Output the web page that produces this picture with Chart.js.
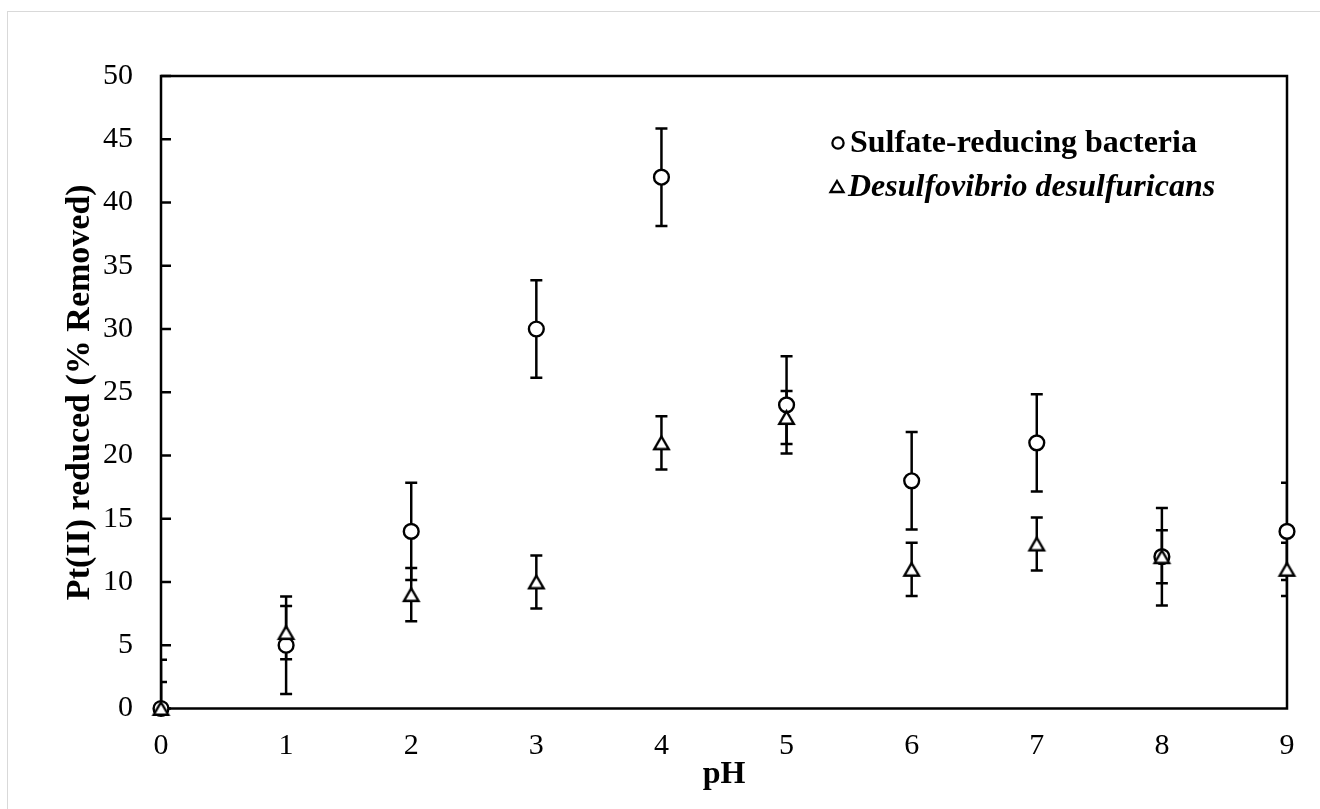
<!DOCTYPE html>
<html>
<head>
<meta charset="utf-8">
<script src="https://cdn.jsdelivr.net/npm/chart.js@4.4.1/dist/chart.umd.min.js"></script>
<style>
  html, body { margin: 0; padding: 0; background: #ffffff; }
  #wrap { position: relative; width: 1320px; height: 809px; }
</style>
</head>
<body>
<div id="wrap"><canvas id="chart" width="1320" height="809"></canvas></div>
<script>
// pH values on the x axis
const phValues = [0, 1, 2, 3, 4, 5, 6, 7, 8, 9];

// Sulfate-reducing bacteria: Pt(II) removed (%) and error
const srbRemoved = [0, 5, 14, 30, 42, 24, 18, 21, 12, 14];
const srbError = [3.85, 3.85, 3.85, 3.85, 3.85, 3.85, 3.85, 3.85, 3.85, 3.85];

// Desulfovibrio desulfuricans: Pt(II) removed (%) and error
const ddRemoved = [0, 6, 9, 10, 21, 23, 11, 13, 12, 11];
const ddError = [2.1, 2.1, 2.1, 2.1, 2.1, 2.1, 2.1, 2.1, 2.1, 2.1];

// Axis tick labels
const xTickValues = [0, 1, 2, 3, 4, 5, 6, 7, 8, 9];
const yTickValues = [0, 5, 10, 15, 20, 25, 30, 35, 40, 45, 50];

const seriesNames = ['Sulfate-reducing bacteria', 'Desulfovibrio desulfuricans'];
const xTitle = 'pH';
const yTitle = 'Pt(II) reduced (% Removed)';

const SERIF = '"Liberation Serif", "Times New Roman", Times, serif';

// Open triangle marker, centred on its bounding box
function makeTriangle(w, h, lw) {
  const pad = Math.ceil(lw * 1.5);
  const c = document.createElement('canvas');
  c.width = Math.ceil(w + pad * 2);
  c.height = Math.ceil(h + pad * 2);
  const g = c.getContext('2d');
  const cx = c.width / 2, cy = c.height / 2;
  g.beginPath();
  g.moveTo(cx, cy - h / 2);
  g.lineTo(cx + w / 2, cy + h / 2);
  g.lineTo(cx - w / 2, cy + h / 2);
  g.closePath();
  g.fillStyle = '#ffffff';
  g.fill();
  g.lineWidth = lw;
  g.strokeStyle = '#000000';
  g.stroke();
  return c;
}
const triangleMarker = makeTriangle(14.5, 12.5, 2.4);

function toPoints(xs, ys) {
  return xs.map((x, i) => ({ x: x, y: ys[i] }));
}

const errorSets = [srbError, ddError];

const plotDecor = {
  id: 'plotDecor',
  beforeDraw(chart) {
    const ctx = chart.ctx;
    ctx.save();
    ctx.strokeStyle = '#d9d9d9';
    ctx.lineWidth = 1;
    ctx.strokeRect(7.5, 11.5, 1400, 900);
    ctx.restore();
  },
  beforeDatasetsDraw(chart) {
    const { ctx, chartArea: a, scales } = chart;
    ctx.save();
    // plot frame
    ctx.strokeStyle = '#000000';
    ctx.lineWidth = 2.5;
    ctx.strokeRect(a.left, a.top, a.right - a.left, a.bottom - a.top);
    // inside tick marks on the value axis
    yTickValues.forEach(v => {
      const y = scales.y.getPixelForValue(v);
      ctx.beginPath();
      ctx.moveTo(a.left, y);
      ctx.lineTo(a.left + 10, y);
      ctx.stroke();
    });
    // error bars, clipped to the plot area
    ctx.beginPath();
    ctx.rect(a.left, a.top, a.right - a.left, a.bottom - a.top);
    ctx.clip();
    ctx.lineWidth = 2.5;
    chart.data.datasets.forEach((ds, di) => {
      const errs = errorSets[di];
      ds.data.forEach((p, i) => {
        const x = scales.x.getPixelForValue(p.x);
        const yHi = scales.y.getPixelForValue(p.y + errs[i]);
        const yLo = scales.y.getPixelForValue(p.y - errs[i]);
        ctx.beginPath();
        ctx.moveTo(x, yHi);
        ctx.lineTo(x, yLo);
        ctx.moveTo(x - 6, yHi);
        ctx.lineTo(x + 6, yHi);
        ctx.moveTo(x - 6, yLo);
        ctx.lineTo(x + 6, yLo);
        ctx.stroke();
      });
    });
    ctx.restore();
  },
  afterDraw(chart) {
    const ctx = chart.ctx;
    ctx.save();
    ctx.strokeStyle = '#000000';
    ctx.lineWidth = 2.3;
    ctx.textBaseline = 'middle';
    ctx.textAlign = 'left';
    // legend row 1: open circle
    ctx.beginPath();
    ctx.arc(838, 143, 5.6, 0, Math.PI * 2);
    ctx.fillStyle = '#ffffff';
    ctx.fill();
    ctx.stroke();
    ctx.fillStyle = '#000000';
    ctx.font = 'bold 32px ' + SERIF;
    ctx.fillText(seriesNames[0], 850, 144);
    // legend row 2: open triangle
    ctx.beginPath();
    ctx.moveTo(837, 181);
    ctx.lineTo(843.5, 192);
    ctx.lineTo(830.5, 192);
    ctx.closePath();
    ctx.fillStyle = '#ffffff';
    ctx.fill();
    ctx.stroke();
    ctx.fillStyle = '#000000';
    ctx.font = 'italic bold 32px ' + SERIF;
    ctx.fillText(seriesNames[1], 848, 188);
    ctx.restore();
  }
};

new Chart(document.getElementById('chart'), {
  type: 'scatter',
  data: {
    datasets: [
      {
        label: seriesNames[0],
        data: toPoints(phValues, srbRemoved),
        pointStyle: 'circle',
        radius: 7.4,
        borderWidth: 2.4,
        borderColor: '#000000',
        backgroundColor: '#ffffff',
        showLine: false,
        clip: false,
        order: 1
      },
      {
        label: seriesNames[1],
        data: toPoints(phValues, ddRemoved),
        pointStyle: triangleMarker,
        radius: 8,
        borderColor: '#000000',
        backgroundColor: '#ffffff',
        showLine: false,
        clip: false,
        order: 0
      }
    ]
  },
  options: {
    responsive: false,
    animation: false,
    events: [],
    layout: { padding: { left: 0, top: 76, right: 33, bottom: 0 } },
    plugins: {
      legend: { display: false },
      tooltip: { enabled: false }
    },
    scales: {
      x: {
        type: 'linear',
        min: 0,
        max: 9,
        afterBuildTicks(scale) { scale.ticks = xTickValues.map(v => ({ value: v })); },
        afterFit(scale) { scale.height = 100.5; },
        grid: { display: false, drawTicks: false },
        border: { display: false },
        ticks: {
          color: '#000000',
          padding: 20,
          font: { family: SERIF, size: 30 }
        },
        title: {
          display: true,
          text: xTitle,
          color: '#000000',
          padding: { top: 15, bottom: 15 },
          font: { family: SERIF, size: 32, weight: 'bold' }
        }
      },
      y: {
        type: 'linear',
        min: 0,
        max: 50,
        afterBuildTicks(scale) { scale.ticks = yTickValues.map(v => ({ value: v })); },
        afterFit(scale) { scale.width = 161; },
        grid: { display: false, drawTicks: false },
        border: { display: false },
        ticks: {
          color: '#000000',
          padding: 28,
          font: { family: SERIF, size: 30 }
        },
        title: {
          display: true,
          text: yTitle,
          color: '#000000',
          padding: { top: 60, bottom: 60 },
          font: { family: SERIF, size: 34, weight: 'bold' }
        }
      }
    }
  },
  plugins: [plotDecor]
});
</script>
</body>
</html>
